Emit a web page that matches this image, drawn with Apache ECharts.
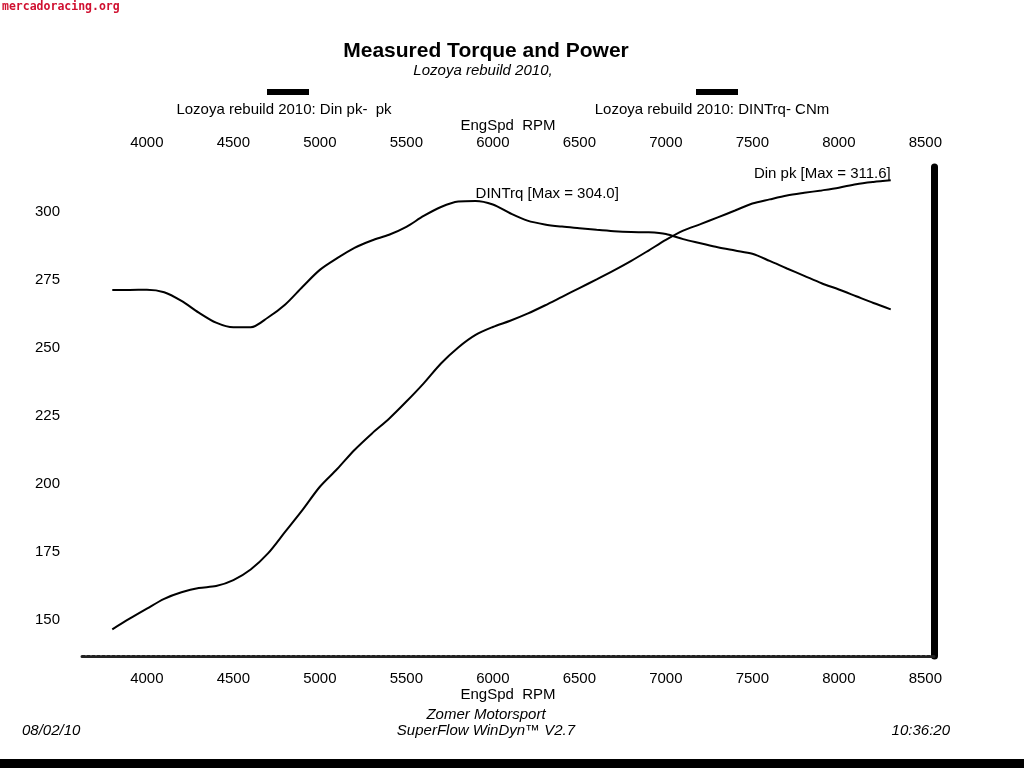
<!DOCTYPE html>
<html>
<head>
<meta charset="utf-8">
<script src="https://cdn.jsdelivr.net/npm/echarts@6/dist/echarts.min.js"></script>
<style>
html,body{margin:0;padding:0;background:#fff;}
#chart{width:1024px;height:768px;}
</style>
</head>
<body>
<div id="chart"></div>
<script>
const rpm = [3800,3900,4000,4100,4200,4300,4400,4500,4600,4700,4800,4900,5000,5100,5200,5300,5400,5500,5600,5700,5800,5900,6000,6100,6200,6300,6400,6500,6600,6700,6800,6900,7000,7100,7200,7300,7400,7500,7600,7700,7800,7900,8000,8100,8200,8300];
const torque = [271.3,271.3,271.4,270.5,267.3,263.0,259.3,257.6,257.6,261.2,266.0,272.5,278.7,283.0,286.8,289.5,291.6,294.5,298.5,301.8,303.8,304.0,302.7,299.5,296.8,295.4,294.6,294.0,293.4,292.9,292.6,292.5,291.9,290.0,288.5,287.0,285.8,284.6,282.0,279.2,276.5,273.8,271.5,269.0,266.5,264.2];
const power = [146.6,150.5,154.2,157.8,160.2,161.8,162.5,164.7,168.6,174.5,182.5,190.5,199.0,205.5,212.5,218.5,224.0,230.3,237.0,244.3,250.2,254.8,257.7,260.0,262.6,265.6,268.8,272.0,275.2,278.5,282.0,285.8,289.7,293.1,295.5,298.0,300.5,303.1,304.6,306.0,307.0,307.9,308.9,310.2,311.0,311.6];
const xTicks = [4000,4500,5000,5500,6000,6500,7000,7500,8000,8500];
const yTicks = [150,175,200,225,250,275,300];

const FONT = 'Liberation Sans, Arial, sans-serif';
const chart = echarts.init(document.getElementById('chart'), null, {renderer:'canvas'});

const plain = v => String(Math.round(v));
const xBase = {
  type:'value', min:3625, max:8550,
  splitLine:{show:false}, axisTick:{show:false},
  nameLocation:'middle', nameMoveOverlap:false,
  nameTextStyle:{fontFamily:FONT,fontSize:15,color:'#000'},
  axisLabel:{customValues:xTicks, formatter:plain, fontFamily:FONT, fontSize:15, color:'#000'}
};

chart.setOption({
  animation:false,
  backgroundColor:'#fff',
  grid:{left:82, right:90, top:167, bottom:112},
  xAxis:[
    Object.assign({}, xBase, {position:'bottom', name:'EngSpd  RPM', nameGap:31,
      axisLine:{show:true, lineStyle:{color:'#222', width:3, type:[3,2]}},
      axisLabel:Object.assign({}, xBase.axisLabel, {margin:15})}),
    Object.assign({}, xBase, {position:'top', name:'EngSpd  RPM', nameGap:34,
      axisLine:{show:false},
      axisLabel:Object.assign({}, xBase.axisLabel, {margin:17})})
  ],
  yAxis:[
    {type:'value', min:136.8, max:316.5, position:'left',
     splitLine:{show:false}, axisTick:{show:false}, axisLine:{show:false},
     axisLabel:{customValues:yTicks, formatter:plain, margin:22, verticalAlign:'middle', padding:[4,0,0,0], fontFamily:FONT, fontSize:15, color:'#000'}},
    {type:'value', min:136.8, max:316.5, position:'right',
     splitLine:{show:false}, axisTick:{show:false}, axisLabel:{show:false},
     axisLine:{show:true, lineStyle:{color:'#000', width:7}}}
  ],
  series:[
    {type:'line', name:'DINTrq', xAxisIndex:0, yAxisIndex:0,
     data:rpm.map((r,i)=>[r,torque[i]]), showSymbol:false, smooth:0.3,
     lineStyle:{color:'#000', width:2},
     markPoint:{symbol:'circle', symbolSize:0, data:[{type:'max'}],
       label:{show:true, position:'inside', align:'left', offset:[0,-7],
         formatter:p=>'DINTrq [Max = '+p.value.toFixed(1)+']',
         fontFamily:FONT, fontSize:15, color:'#000'}}},
    {type:'line', name:'Din pk', xAxisIndex:0, yAxisIndex:0,
     data:rpm.map((r,i)=>[r,power[i]]), showSymbol:false, smooth:0.3,
     lineStyle:{color:'#000', width:2},
     markPoint:{symbol:'circle', symbolSize:0, data:[{type:'max'}],
       label:{show:true, position:'inside', align:'right', offset:[0,-6],
         formatter:p=>'Din pk [Max = '+p.value.toFixed(1)+']',
         fontFamily:FONT, fontSize:15, color:'#000'}}}
  ],
  graphic:[
    {type:'text', left:2, top:1, style:{text:'mercadoracing.org', font:'bold 11.5px "DejaVu Sans Mono", monospace', fill:'#d01030'}},
    {type:'text', x:486, y:51, style:{text:'Measured Torque and Power', font:'bold 21px Liberation Sans, Arial', fill:'#000', align:'center', verticalAlign:'middle'}},
    {type:'text', x:483, y:71, style:{text:'Lozoya rebuild 2010,', font:'italic 15px Liberation Sans, Arial', fill:'#000', align:'center', verticalAlign:'middle'}},
    {type:'rect', shape:{x:267, y:89, width:42, height:6}, style:{fill:'#000'}},
    {type:'text', x:284, y:110, style:{text:'Lozoya rebuild 2010: Din pk-  pk', font:'15px Liberation Sans, Arial', fill:'#000', align:'center', verticalAlign:'middle'}},
    {type:'rect', shape:{x:696, y:89, width:42, height:6}, style:{fill:'#000'}},
    {type:'text', x:712, y:110, style:{text:'Lozoya rebuild 2010: DINTrq- CNm', font:'15px Liberation Sans, Arial', fill:'#000', align:'center', verticalAlign:'middle'}},
    {type:'text', x:486, y:715, style:{text:'Zomer Motorsport', font:'italic 15px Liberation Sans, Arial', fill:'#000', align:'center', verticalAlign:'middle'}},
    {type:'text', x:486, y:731, style:{text:'SuperFlow WinDyn\u2122 V2.7', font:'italic 15px Liberation Sans, Arial', fill:'#000', align:'center', verticalAlign:'middle'}},
    {type:'text', x:22, y:731, style:{text:'08/02/10', font:'italic 15px Liberation Sans, Arial', fill:'#000', align:'left', verticalAlign:'middle'}},
    {type:'text', x:950, y:731, style:{text:'10:36:20', font:'italic 15px Liberation Sans, Arial', fill:'#000', align:'right', verticalAlign:'middle'}},
    {type:'rect', shape:{x:0, y:759, width:1024, height:9}, style:{fill:'#000'}}
  ]
});
</script>
</body>
</html>
